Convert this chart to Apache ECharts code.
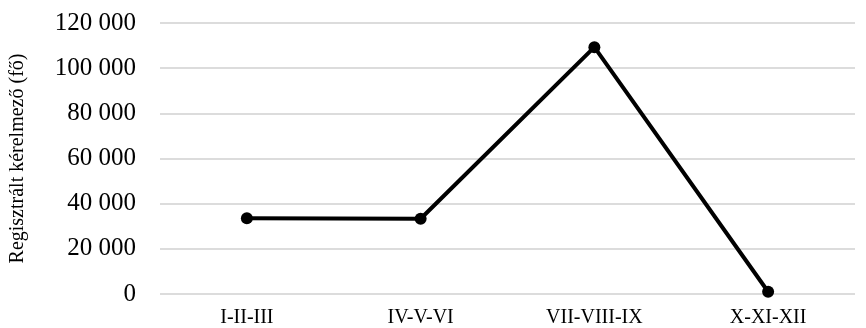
<!DOCTYPE html>
<html><head><meta charset="utf-8">
<script src="https://cdn.jsdelivr.net/npm/echarts@6/dist/echarts.min.js"></script>
<style>html,body{margin:0;padding:0;background:#fff}#c{width:866px;height:328px}</style>
</head><body><div id="c"></div>
<script>
const categories = ['I-II-III', 'IV-V-VI', 'VII-VIII-IX', 'X-XI-XII'];
const values = [33500, 33300, 109300, 1000];
const yTitle = 'Regisztrált kérelmező (fő)';

const chart = echarts.init(document.getElementById('c'));
const font = '"Liberation Serif", "Times New Roman", serif';
chart.setOption({
  animation: false,
  grid: { left: 156, right: 11, top: 23, bottom: 34 },
  xAxis: {
    type: 'category', data: categories, boundaryGap: true,
    axisLine: { show: false }, axisTick: { show: false },
    axisLabel: { color: '#000', fontFamily: font, fontSize: 20, margin: 14 }
  },
  yAxis: {
    type: 'value', min: 0, max: 120000, interval: 20000,
    name: yTitle, nameLocation: 'middle', nameGap: 132, nameRotate: 90,
    nameTextStyle: { color: '#000', fontFamily: font, fontSize: 20 },
    axisLabel: {
      color: '#000', fontFamily: font, fontSize: 25, margin: 24,
      formatter: v => String(v).replace(/\B(?=(\d{3})+(?!\d))/g, ' ')
    },
    splitLine: { lineStyle: { color: '#d0d0d0', width: 1.5 } }
  },
  series: [{
    type: 'line', data: values,
    lineStyle: { color: '#000', width: 4 },
    itemStyle: { color: '#000' },
    symbol: 'circle', symbolSize: 12
  }]
});
</script></body></html>
